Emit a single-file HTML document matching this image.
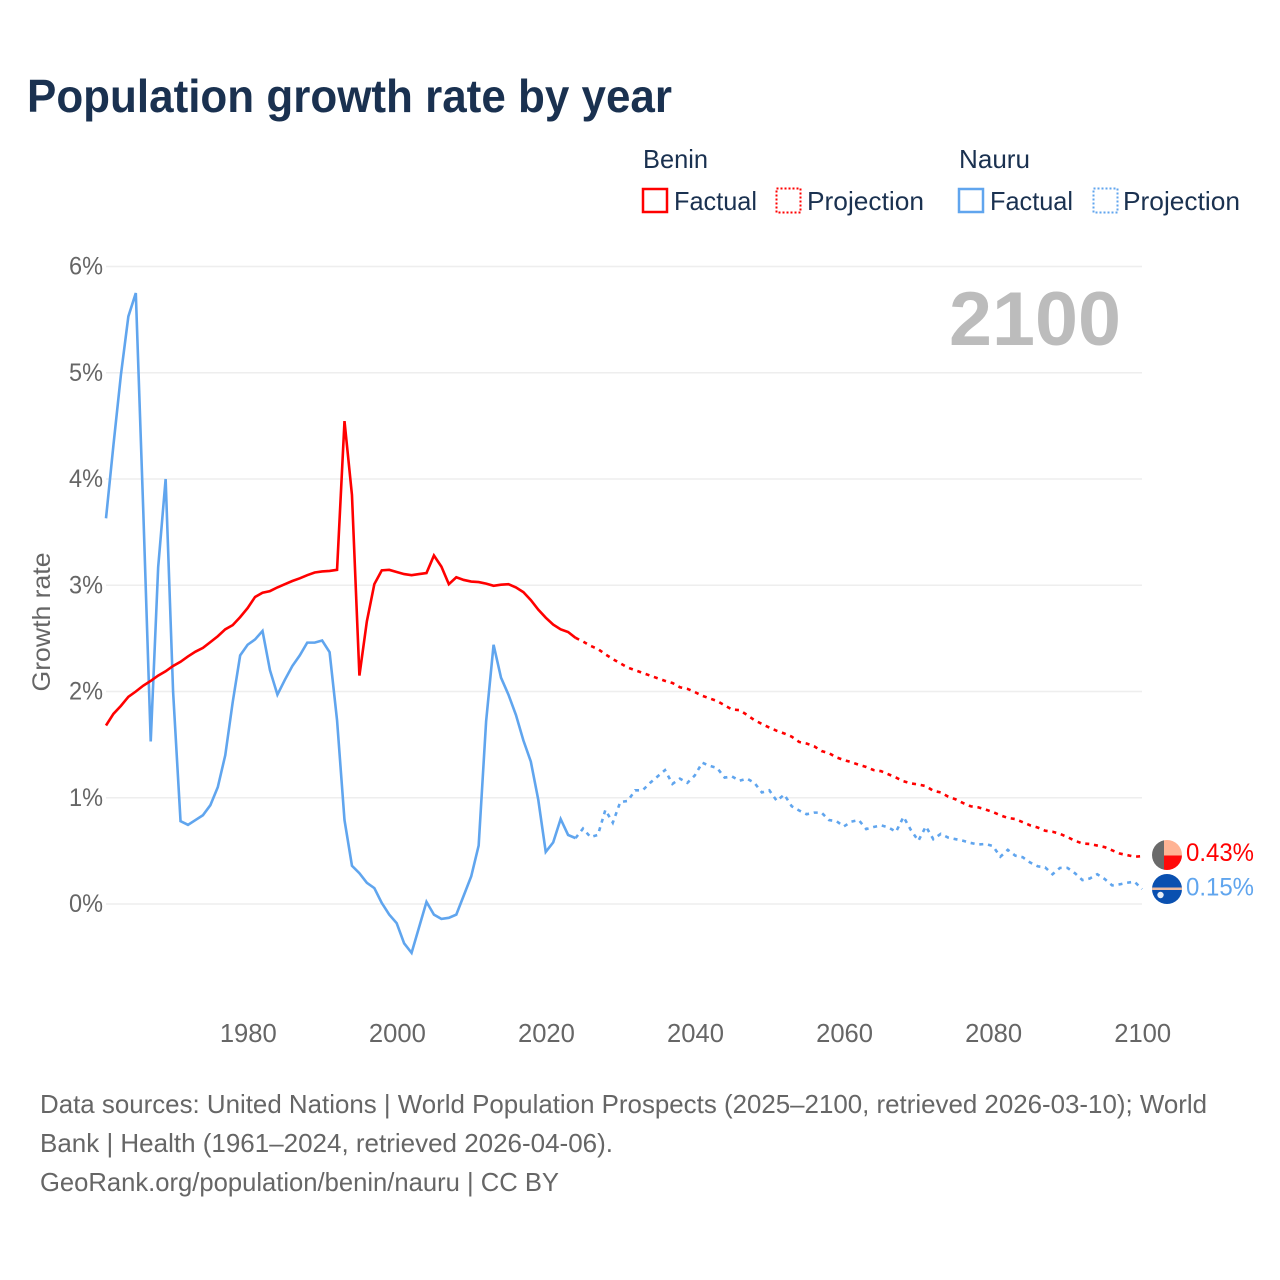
<!DOCTYPE html>
<html lang="en">
<head>
<meta charset="utf-8">
<title>Population growth rate by year</title>
<style>
html,body{margin:0;padding:0;background:#fff;width:1280px;height:1280px;overflow:hidden}
svg{display:block}
text{font-family:"Liberation Sans",sans-serif}
</style>
</head>
<body>
<svg id="chart" xmlns="http://www.w3.org/2000/svg" width="1280" height="1280" viewBox="0 0 1280 1280">
  <rect x="0" y="0" width="1280" height="1280" fill="#fff"/>
  <text x="27" y="112" font-size="46" font-weight="700" fill="#1a3150" textLength="645" lengthAdjust="spacingAndGlyphs">Population growth rate by year</text>

  <g font-size="26" fill="#1a3150">
    <text x="643" y="168" textLength="65" lengthAdjust="spacingAndGlyphs">Benin</text>
    <text x="959" y="168" textLength="71" lengthAdjust="spacingAndGlyphs">Nauru</text>
    <g>
      <rect x="643" y="189" width="24" height="23" fill="none" stroke="#ff0000" stroke-width="2.5"/>
      <text x="674" y="210" textLength="83" lengthAdjust="spacingAndGlyphs">Factual</text>
    </g>
    <g>
      <rect x="776.5" y="188.5" width="24" height="24" fill="none" stroke="#ff0000" stroke-width="2" stroke-dasharray="2,2"/>
      <text x="807" y="210" textLength="117" lengthAdjust="spacingAndGlyphs">Projection</text>
    </g>
    <g>
      <rect x="959" y="189" width="24" height="23" fill="none" stroke="#60a5ee" stroke-width="2.5"/>
      <text x="990" y="210" textLength="83" lengthAdjust="spacingAndGlyphs">Factual</text>
    </g>
    <g>
      <rect x="1093.5" y="188.5" width="24" height="24" fill="none" stroke="#60a5ee" stroke-width="2" stroke-dasharray="2,2"/>
      <text x="1123" y="210" textLength="117" lengthAdjust="spacingAndGlyphs">Projection</text>
    </g>
  </g>

  <g id="grid"></g>
  <g id="yticks"></g>
  <g id="xticks"></g>
  <text transform="translate(50,622) rotate(-90)" text-anchor="middle" font-size="25" fill="#666" textLength="139" lengthAdjust="spacingAndGlyphs">Growth rate</text>
  <text x="949" y="345" font-size="76" font-weight="700" fill="#bcbcbc" textLength="172" lengthAdjust="spacingAndGlyphs">2100</text>

  <g id="series"></g>

  <g>
    <clipPath id="clipBenin"><circle cx="1167" cy="855" r="15"/></clipPath>
    <g clip-path="url(#clipBenin)">
      <rect x="1152" y="840" width="12" height="30" fill="#6a6a6a"/>
      <rect x="1164" y="840" width="18" height="15.5" fill="#ffb394"/>
      <rect x="1164" y="855.5" width="18" height="14.5" fill="#ff0a0a"/>
    </g>
  </g>
  <g>
    <clipPath id="clipNauru"><circle cx="1167" cy="889" r="15"/></clipPath>
    <g clip-path="url(#clipNauru)">
      <rect x="1152" y="874" width="30" height="30" fill="#0a50b0"/>
      <rect x="1152" y="887.5" width="30" height="2.5" fill="#e9b9a0"/>
      <circle cx="1160.5" cy="895" r="3.2" fill="#e8eef6"/>
    </g>
  </g>
  <text id="labelBenin" x="1186" y="861" font-size="25" fill="#ff0000" textLength="68" lengthAdjust="spacingAndGlyphs"></text>
  <text id="labelNauru" x="1186" y="895.5" font-size="25" fill="#60a5ee" textLength="68" lengthAdjust="spacingAndGlyphs"></text>

  <g font-size="26" fill="#666">
    <text x="40" y="1113" textLength="1167" lengthAdjust="spacingAndGlyphs">Data sources: United Nations | World Population Prospects (2025–2100, retrieved 2026-03-10); World</text>
    <text x="40" y="1152" textLength="573" lengthAdjust="spacingAndGlyphs">Bank | Health (1961–2024, retrieved 2026-04-06).</text>
    <text x="40" y="1191" textLength="519" lengthAdjust="spacingAndGlyphs">GeoRank.org/population/benin/nauru | CC BY</text>
  </g>
</svg>
<script>
const firstFactualYear = 1961;
const firstProjectionYear = 2024;
const yTickValues = [0, 1, 2, 3, 4, 5, 6];
const yTickLabels = ["0%", "1%", "2%", "3%", "4%", "5%", "6%"];
const xTickYears = [1980, 2000, 2020, 2040, 2060, 2080, 2100];
const endLabelBenin = "0.43%";
const endLabelNauru = "0.15%";

const beninFactual = [1.68,1.79,1.865,1.95,2.0,2.055,2.1,2.15,2.19,2.24,2.28,2.33,2.375,2.41,2.465,2.52,2.585,2.625,2.7,2.785,2.89,2.93,2.945,2.98,3.01,3.04,3.065,3.095,3.12,3.13,3.135,3.145,4.545,3.85,2.15,2.66,3.01,3.14,3.145,3.125,3.105,3.095,3.105,3.115,3.28,3.175,3.01,3.075,3.05,3.035,3.03,3.015,2.995,3.005,3.01,2.98,2.935,2.86,2.77,2.695,2.63,2.585,2.56,2.505];

const beninProjection = [2.505,2.47,2.43,2.40,2.35,2.305,2.265,2.225,2.2,2.175,2.15,2.125,2.10,2.08,2.04,2.025,1.995,1.96,1.935,1.91,1.87,1.83,1.825,1.78,1.73,1.695,1.66,1.63,1.605,1.575,1.525,1.51,1.485,1.44,1.42,1.38,1.355,1.335,1.31,1.29,1.26,1.25,1.22,1.19,1.155,1.135,1.125,1.11,1.065,1.05,1.01,0.985,0.95,0.92,0.91,0.89,0.865,0.835,0.81,0.80,0.77,0.74,0.72,0.69,0.68,0.66,0.63,0.595,0.57,0.565,0.55,0.535,0.505,0.475,0.46,0.445,0.45];

const nauruFactual = [3.63,4.32,4.98,5.53,5.75,3.7,1.53,3.17,4.0,2.0,0.78,0.745,0.79,0.835,0.93,1.10,1.40,1.9,2.34,2.44,2.49,2.57,2.2,1.97,2.11,2.24,2.34,2.46,2.46,2.48,2.37,1.73,0.79,0.36,0.29,0.2,0.15,0.01,-0.1,-0.18,-0.37,-0.46,-0.22,0.02,-0.1,-0.14,-0.13,-0.1,0.08,0.26,0.55,1.72,2.44,2.13,1.97,1.78,1.54,1.34,0.98,0.49,0.58,0.8,0.65,0.62];

const nauruProjection = [0.62,0.71,0.63,0.65,0.885,0.765,0.96,0.97,1.07,1.07,1.14,1.2,1.26,1.13,1.18,1.14,1.21,1.33,1.3,1.28,1.19,1.2,1.16,1.18,1.14,1.05,1.07,0.97,1.03,0.92,0.88,0.845,0.86,0.86,0.79,0.78,0.73,0.775,0.79,0.705,0.725,0.74,0.72,0.68,0.82,0.695,0.595,0.73,0.61,0.66,0.625,0.61,0.595,0.575,0.56,0.565,0.545,0.445,0.51,0.455,0.44,0.39,0.355,0.345,0.28,0.34,0.34,0.29,0.225,0.24,0.28,0.235,0.175,0.185,0.2,0.21,0.14];

const NS = "http://www.w3.org/2000/svg";
function xScale(year) { return 106 + (year - 1961) * (1036 / 139); }
function yScale(value) { return 904 - value * 106.25; }

const grid = document.getElementById("grid");
const yTicks = document.getElementById("yticks");
const xTicks = document.getElementById("xticks");
const seriesGroup = document.getElementById("series");

yTickValues.forEach(function (v, i) {
  const line = document.createElementNS(NS, "line");
  
  
  line.setAttribute("x1", 106);
  line.setAttribute("x2", 1142);
  line.setAttribute("y1", yScale(v));
  line.setAttribute("y2", yScale(v));
  line.setAttribute("stroke", "#eeeeee");
  line.setAttribute("stroke-width", "1.6");
  grid.appendChild(line);

  const t = document.createElementNS(NS, "text");
  
  
  t.setAttribute("x", 69);
  t.setAttribute("y", yScale(v) + 8);
  t.setAttribute("font-size", "25");
  t.setAttribute("fill", "#666");
  t.setAttribute("textLength", "34");
  t.setAttribute("lengthAdjust", "spacingAndGlyphs");
  t.textContent = yTickLabels[i];
  yTicks.appendChild(t);
});

xTickYears.forEach(function (year) {
  const t = document.createElementNS(NS, "text");
  
  
  t.setAttribute("x", xScale(year) + 0.7);
  t.setAttribute("y", 1042);
  t.setAttribute("font-size", "25.6");
  t.setAttribute("fill", "#666");
  t.setAttribute("text-anchor", "middle");
  t.textContent = String(year);
  xTicks.appendChild(t);
});

function drawLine(values, startYear, color, dashed, name) {
  const path = document.createElementNS(NS, "polyline");
  
  
  const pts = values.map(function (v, i) {
    return xScale(startYear + i).toFixed(2) + "," + yScale(v).toFixed(2);
  });
  path.setAttribute("points", pts.join(" "));
  path.setAttribute("fill", "none");
  path.setAttribute("stroke", color);
  path.setAttribute("stroke-width", "2.6");
  path.setAttribute("stroke-linejoin", "miter");
  if (dashed) path.setAttribute("stroke-dasharray", "4,4.8");
  seriesGroup.appendChild(path);
}

drawLine(nauruFactual, firstFactualYear, "#60a5ee", false, "line-nauru-factual");
drawLine(nauruProjection, firstProjectionYear, "#60a5ee", true, "line-nauru-projection");
drawLine(beninFactual, firstFactualYear, "#ff0000", false, "line-benin-factual");
drawLine(beninProjection, firstProjectionYear, "#ff0000", true, "line-benin-projection");

document.getElementById("labelBenin").textContent = endLabelBenin;
document.getElementById("labelNauru").textContent = endLabelNauru;
</script>
</body>
</html>
